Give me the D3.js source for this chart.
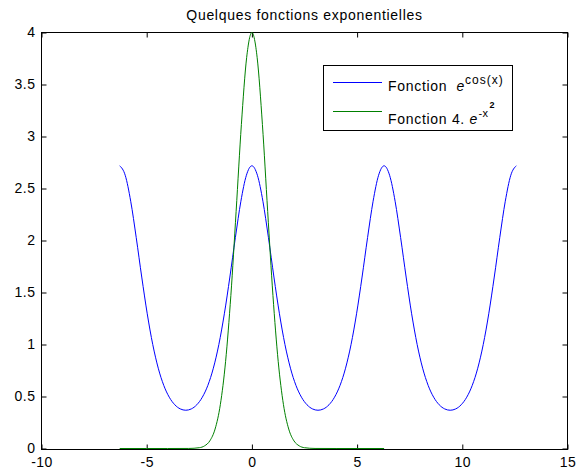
<!DOCTYPE html>
<html>
<head>
<meta charset="utf-8">
<script src="https://cdn.jsdelivr.net/npm/d3@7"></script>
<style>
  body { margin: 0; background: #fff; }
  svg { display: block; font-family: "Liberation Sans", Arial, sans-serif; }
</style>
</head>
<body>
<div id="chart"></div>
<script>
// Quelques fonctions exponentielles

// e^cos(x)
let blueX = [-6.2832, -6.0214, -5.7596, -5.4978, -5.2360, -4.9742, -4.7124, -4.4506, -4.1888, -3.9270, -3.6652, -3.4034,
  -3.1416, -2.8798, -2.6180, -2.3562, -2.0944, -1.8326, -1.5708, -1.3090, -1.0472, -0.7854, -0.5236, -0.2618,
  0, 0.2618, 0.5236, 0.7854, 1.0472, 1.3090, 1.5708, 1.8326, 2.0944, 2.3562, 2.6180, 2.8798,
  3.1416, 3.4034, 3.6652, 3.9270, 4.1888, 4.4506, 4.7124, 4.9742, 5.2360, 5.4978, 5.7596, 6.0214,
  6.2832, 6.5450, 6.8068, 7.0686, 7.3304, 7.5922, 7.8540, 8.1158, 8.3776, 8.6394, 8.9012, 9.1630,
  9.4248, 9.6866, 9.9484, 10.2102, 10.4720, 10.7338, 10.9956, 11.2574, 11.5192, 11.7810, 12.0428, 12.3046,
  12.5664];
let blueY = [2.7183, 2.6272, 2.3774, 2.0281, 1.6487, 1.2954, 1.0000, 0.7720, 0.6065, 0.4931, 0.4206, 0.3806,
  0.3679, 0.3806, 0.4206, 0.4931, 0.6065, 0.7720, 1.0000, 1.2954, 1.6487, 2.0281, 2.3774, 2.6272,
  2.7183, 2.6272, 2.3774, 2.0281, 1.6487, 1.2954, 1.0000, 0.7720, 0.6065, 0.4931, 0.4206, 0.3806,
  0.3679, 0.3806, 0.4206, 0.4931, 0.6065, 0.7720, 1.0000, 1.2954, 1.6487, 2.0281, 2.3774, 2.6272,
  2.7183, 2.6272, 2.3774, 2.0281, 1.6487, 1.2954, 1.0000, 0.7720, 0.6065, 0.4931, 0.4206, 0.3806,
  0.3679, 0.3806, 0.4206, 0.4931, 0.6065, 0.7720, 1.0000, 1.2954, 1.6487, 2.0281, 2.3774, 2.6272,
  2.7183];

// 4.e^(-x^2)
let greenX = [-6.2832, -5, -4, -3, -2.5, -2.25, -2, -1.75, -1.5, -1.25, -1, -0.75, -0.5, -0.25,
  0, 0.25, 0.5, 0.75, 1, 1.25, 1.5, 1.75, 2, 2.25, 2.5, 3, 4, 5, 6.2832];
let greenY = [0, 0, 0, 0.0005, 0.0077, 0.0253, 0.0733, 0.1871, 0.4216, 0.8383, 1.4715, 2.2791, 3.1152, 3.7577,
  4, 3.7577, 3.1152, 2.2791, 1.4715, 0.8383, 0.4216, 0.1871, 0.0733, 0.0253, 0.0077, 0.0005, 0, 0, 0];

let xTicks = [-10, -5, 0, 5, 10, 15];
let yTicks = [0, 0.5, 1, 1.5, 2, 2.5, 3, 3.5, 4];

let width = 577;
let height = 470;
let plotLeft = 41.5, plotRight = 567.5, plotTop = 32.5, plotBottom = 449.5;

let svg = d3.select('#chart').append('svg')
  .attr('width', width)
  .attr('height', height);

svg.append('rect')
  .attr('width', width)
  .attr('height', height)
  .attr('fill', '#fff');

let x = d3.scaleLinear().domain([-10, 15]).range([plotLeft, plotRight]);
// data zero sits one pixel above the bottom edge, like the original
let y = d3.scaleLinear().domain([0, 4]).range([plotBottom - 1, plotTop]);

// Axes (ticks point inwards, box on)
const styleAxis = g => {
  g.select('.domain').remove();
  g.selectAll('line').attr('stroke', '#000');
  g.selectAll('text')
    .attr('fill', '#000')
    .style('font-size', '14px')
    .style('letter-spacing', '0.5px')
    .style('font-family', '"Liberation Sans", Arial, sans-serif');
};
const fmt = d => String(d);

svg.append('g')
  .attr('transform', `translate(0,${plotBottom})`)
  .call(d3.axisBottom(x).tickValues(xTicks).tickSize(-5).tickPadding(8).tickFormat(fmt))
  .call(styleAxis);

svg.append('g')
  .attr('transform', `translate(0,${plotTop})`)
  .call(d3.axisTop(x).tickValues(xTicks).tickSize(-5).tickFormat(''))
  .call(styleAxis);

svg.append('g')
  .attr('transform', `translate(${plotLeft},0)`)
  .call(d3.axisLeft(y).tickValues(yTicks).tickSize(-5).tickPadding(6).tickFormat(fmt))
  .call(styleAxis);

svg.append('g')
  .attr('transform', `translate(${plotRight},0)`)
  .call(d3.axisRight(y).tickValues(yTicks).tickSize(-5).tickFormat(''))
  .call(styleAxis);

svg.append('rect')
  .attr('x', plotLeft)
  .attr('y', plotTop)
  .attr('width', plotRight - plotLeft)
  .attr('height', plotBottom - plotTop)
  .attr('fill', 'none')
  .attr('stroke', '#000');

// Curves
let line = d3.line()
  .x(d => x(d[0]))
  .y(d => y(d[1]))
  .curve(d3.curveMonotoneX);

svg.append('path')
  .datum(d3.zip(blueX, blueY))
  .attr('d', line)
  .attr('fill', 'none')
  .attr('stroke', '#0000ff')
  .attr('stroke-width', 1);

svg.append('path')
  .datum(d3.zip(greenX, greenY))
  .attr('d', line)
  .attr('fill', 'none')
  .attr('stroke', '#008000')
  .attr('stroke-width', 1);

// Title
svg.append('text')
  .attr('x', (plotLeft + plotRight) / 2)
  .attr('y', 20)
  .attr('text-anchor', 'middle')
  .style('font-size', '14px')
  .style('letter-spacing', '0.7px')
  .text('Quelques fonctions exponentielles');

// Legend
let legend = svg.append('g');
legend.append('rect')
  .attr('x', 323.5)
  .attr('y', 65.5)
  .attr('width', 189)
  .attr('height', 65)
  .attr('fill', '#fff')
  .attr('stroke', '#000');

legend.append('line')
  .attr('x1', 333).attr('x2', 382)
  .attr('y1', 82.5).attr('y2', 82.5)
  .attr('stroke', '#0000ff');
legend.append('line')
  .attr('x1', 333).attr('x2', 382)
  .attr('y1', 111.5).attr('y2', 111.5)
  .attr('stroke', '#008000');

let t1 = legend.append('text')
  .attr('x', 388)
  .attr('y', 91)
  .style('font-size', '14px')
  .style('letter-spacing', '0.7px');
t1.append('tspan').text('Fonction');
t1.append('tspan').attr('x', 456.5).style('font-style', 'italic').style('letter-spacing', '0px').text('e');
t1.append('tspan').attr('x', 465).attr('dy', -7).style('font-size', '12px').style('letter-spacing', '1px').text('cos(x)');

let t2 = legend.append('text')
  .attr('x', 388)
  .attr('y', 124)
  .style('font-size', '14px')
  .style('letter-spacing', '0.7px');
t2.append('tspan').text('Fonction 4.');
t2.append('tspan').attr('x', 469.5).style('font-style', 'italic').style('letter-spacing', '0px').text('e');
t2.append('tspan').attr('x', 478.5).attr('dy', -7).style('font-size', '11px').style('letter-spacing', '0.3px').text('-x');
t2.append('tspan').attr('x', 489.5).attr('dy', -9).style('font-size', '9px').style('font-weight', 'bold').text('2');
</script>
</body>
</html>
